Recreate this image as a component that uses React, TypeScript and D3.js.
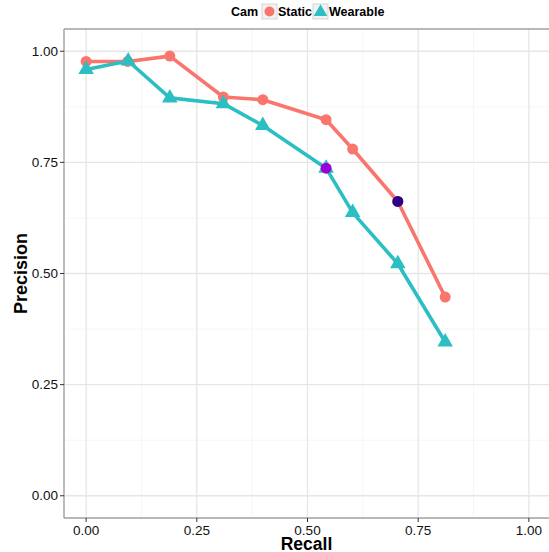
import React from "react"
import * as d3 from "d3"

// recall / precision per camera type
const staticRecall = [0.0, 0.094, 0.189, 0.31, 0.399, 0.542, 0.602, 0.704, 0.811]
const staticPrecision = [0.977, 0.977, 0.989, 0.897, 0.891, 0.846, 0.78, 0.662, 0.447]
const wearRecall = [0.0, 0.095, 0.189, 0.31, 0.399, 0.542, 0.602, 0.704, 0.811]
const wearPrecision = [0.959, 0.978, 0.895, 0.882, 0.833, 0.737, 0.637, 0.522, 0.346]

// two highlighted operating points
const highlights = [
  { recall: 0.542, precision: 0.737, color: "#9b00d6" },
  { recall: 0.704, precision: 0.662, color: "#2c0089" },
]

const majorTicks = [0, 0.25, 0.5, 0.75, 1]
const minorTicks = [0.125, 0.375, 0.625, 0.875]

const RED = "#f8766d"
const TEAL = "#2bbfc4"
const FONT = "'Liberation Sans', Arial, Helvetica, sans-serif"

export default function App() {
  const W = 549
  const H = 552
  const left = 64
  const right = 551
  const top = 29
  const bottom = 518

  const x = d3.scaleLinear().domain([-0.05, 1.05]).range([left, right])
  const y = d3.scaleLinear().domain([-0.05, 1.05]).range([bottom, top])

  const line = d3
    .line<[number, number]>()
    .x(d => x(d[0]))
    .y(d => y(d[1]))

  const staticPts: [number, number][] = staticRecall.map((r, i) => [r, staticPrecision[i]])
  const wearPts: [number, number][] = wearRecall.map((r, i) => [r, wearPrecision[i]])

  const tri = d3.symbol().type(d3.symbolTriangle).size(105)()
  const triSmall = d3.symbol().type(d3.symbolTriangle).size(80)()
  const fmt = d3.format(".2f")

  return (
    <svg
      width={W}
      height={H}
      style={{ position: "absolute", left: 0, top: 0, background: "#fff" }}
      fontFamily={FONT}
    >
      <rect x={0} y={0} width={W} height={H} fill="#fff" />

      {/* grid */}
      {minorTicks.map(t => (
        <g key={"mn" + t}>
          <line x1={x(t)} x2={x(t)} y1={top} y2={bottom} stroke="#f4f4f4" strokeWidth={0.8} />
          <line x1={left} x2={right} y1={y(t)} y2={y(t)} stroke="#f4f4f4" strokeWidth={0.8} />
        </g>
      ))}
      {majorTicks.map(t => (
        <g key={"mj" + t}>
          <line x1={x(t)} x2={x(t)} y1={top} y2={bottom} stroke="#e6e6e6" strokeWidth={1.3} />
          <line x1={left} x2={right} y1={y(t)} y2={y(t)} stroke="#e6e6e6" strokeWidth={1.3} />
        </g>
      ))}

      {/* border */}
      <line x1={left} x2={right} y1={top} y2={top} stroke="#a0a0a0" strokeWidth={1.4} />
      <line x1={left} x2={right} y1={bottom} y2={bottom} stroke="#a0a0a0" strokeWidth={1.4} />
      <line x1={left} x2={left} y1={top} y2={bottom} stroke="#a0a0a0" strokeWidth={1.4} />

      {/* lines */}
      <path d={line(staticPts) || ""} fill="none" stroke={RED} strokeWidth={3.6} strokeLinejoin="round" />
      <path d={line(wearPts) || ""} fill="none" stroke={TEAL} strokeWidth={3.6} strokeLinejoin="round" />

      {/* points */}
      {staticPts.map((d, i) => (
        <circle key={"s" + i} cx={x(d[0])} cy={y(d[1])} r={5.5} fill={RED} />
      ))}
      {wearPts.map((d, i) => (
        <path key={"w" + i} d={tri || ""} transform={`translate(${x(d[0])},${y(d[1])})`} fill={TEAL} />
      ))}
      {highlights.map((h, i) => (
        <circle key={"h" + i} cx={x(h.recall)} cy={y(h.precision)} r={5.5} fill={h.color} />
      ))}

      {/* y axis */}
      {majorTicks.map(t => (
        <g key={"yt" + t}>
          <line x1={left - 4} x2={left} y1={y(t)} y2={y(t)} stroke="#333" strokeWidth={1} />
          <text x={left - 6} y={y(t) + 4.5} textAnchor="end" fontSize={13.5} fill="#111">
            {fmt(t)}
          </text>
        </g>
      ))}
      {/* x axis */}
      {majorTicks.map(t => (
        <g key={"xt" + t}>
          <line x1={x(t)} x2={x(t)} y1={bottom} y2={bottom + 4} stroke="#333" strokeWidth={1} />
          <text x={x(t)} y={535} textAnchor="middle" fontSize={13.5} fill="#111">
            {fmt(t)}
          </text>
        </g>
      ))}

      <text x={(left + right) / 2 - 1} y={550} textAnchor="middle" fontSize={17.5} fontWeight="bold">
        Recall
      </text>
      <text
        transform={`translate(27,${(top + bottom) / 2}) rotate(-90)`}
        textAnchor="middle"
        fontSize={18}
        fontWeight="bold"
      >
        Precision
      </text>

      {/* legend */}
      <g fontSize={12.5} fontWeight="bold">
        <text x={231} y={16}>Cam</text>
        <rect x={262} y={4} width={15} height={15} fill="#f2f2f2" stroke="#cccccc" strokeWidth={0.8} />
        <circle cx={269.5} cy={11.5} r={5} fill={RED} />
        <text x={278} y={16}>Static</text>
        <rect x={313} y={4} width={15} height={15} fill="#f2f2f2" stroke="#cccccc" strokeWidth={0.8} />
        <path d={triSmall || ""} transform="translate(320.5,12)" fill={TEAL} />
        <text x={329} y={16}>Wearable</text>
      </g>
    </svg>
  )
}
